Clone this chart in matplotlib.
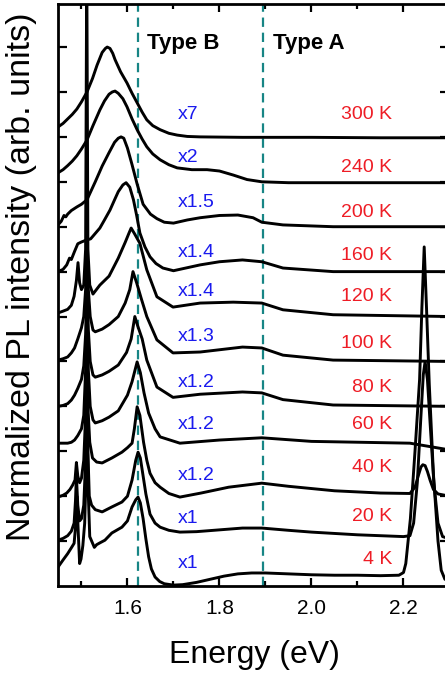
import matplotlib
matplotlib.use("Agg")
import matplotlib.pyplot as plt
from matplotlib.ticker import FixedLocator, NullFormatter

plt.rcParams['font.family'] = ['Liberation Sans', 'DejaVu Sans']

# ---------------- data ----------------
temps = ["4 K", "20 K", "40 K", "60 K", "80 K", "100 K", "120 K", "160 K", "200 K", "240 K", "300 K"]
factors = ["x1", "x1", "x1.2", "x1.2", "x1.2", "x1.3", "x1.4", "x1.4", "x1.5", "x2", "x7"]
factor_y = [0.51, 1.51, 2.47, 3.59, 4.54, 5.55, 6.55, 7.42, 8.55, 9.53, 10.49]
temp_y = [0.60, 1.54, 2.63, 3.59, 4.43, 5.41, 6.44, 7.37, 8.31, 9.31, 10.49]

type_b_energy = 1.622
type_a_energy = 1.894

e_4K = [1.449, 1.46, 1.47, 1.478, 1.484, 1.487, 1.490, 1.493, 1.496, 1.499, 1.503, 1.507, 1.510,
        1.5125, 1.515, 1.518, 1.523, 1.528, 1.533, 1.540, 1.551, 1.566, 1.588, 1.600, 1.610,
        1.618, 1.623, 1.628, 1.634, 1.640, 1.646, 1.652, 1.660, 1.670, 1.680, 1.700, 1.72,
        1.75, 1.78, 1.81, 1.84, 1.87, 1.90, 1.95, 2.00, 2.05, 2.10, 2.15, 2.19, 2.20, 2.205,
        2.215, 2.225, 2.235, 2.240, 2.245, 2.250, 2.256, 2.265, 2.275, 2.282, 2.29, 2.30]
i_4K = [0.42, 0.58, 0.72, 0.85, 0.95, 1.3, 2.0, 1.2, 0.5, 0.6, 0.9, 1.4, 2.5,
        3.6, 2.0, 1.1, 0.98, 0.86, 0.92, 0.96, 1.02, 1.18, 1.31, 1.45, 1.76,
        1.92, 1.98, 1.85, 1.5, 1.05, 0.65, 0.38, 0.2, 0.1, 0.05, 0.02, 0.03,
        0.08, 0.15, 0.22, 0.27, 0.29, 0.29, 0.27, 0.25, 0.24, 0.24, 0.23, 0.24, 0.3, 0.5,
        1.5, 3.0, 4.6, 6.2, 7.55, 6.2, 4.5, 2.5, 1.0, 0.35, 0.15, 0.12]

e_20K = [1.449, 1.46, 1.47, 1.478, 1.484, 1.487, 1.489, 1.492, 1.496, 1.500, 1.505, 1.509,
         1.5115, 1.514, 1.517, 1.522, 1.530, 1.545, 1.566, 1.588, 1.600, 1.610, 1.618, 1.623,
         1.628, 1.634, 1.640, 1.649, 1.660, 1.671, 1.690, 1.714, 1.75, 1.80, 1.85, 1.892,
         1.95, 2.00, 2.05, 2.10, 2.15, 2.20, 2.214, 2.222, 2.23, 2.238, 2.243, 2.247, 2.252,
         2.258, 2.266, 2.275, 2.285, 2.30]
i_20K = [1.02, 1.06, 1.12, 1.22, 1.4, 1.9, 2.45, 1.8, 1.45, 1.5, 1.8, 2.8,
         4.4, 3.0, 2.0, 1.8, 1.7, 1.65, 1.76, 1.87, 2.0, 2.36, 2.8, 2.98,
         2.85, 2.45, 2.05, 1.6, 1.4, 1.31, 1.24, 1.2, 1.21, 1.25, 1.29, 1.29,
         1.24, 1.2, 1.17, 1.14, 1.12, 1.1, 1.12, 1.4, 2.3, 3.8, 4.7, 5.0, 4.6,
         3.6, 2.3, 1.4, 1.1, 1.05]

e_40K = [1.449, 1.46, 1.468, 1.475, 1.481, 1.486, 1.489, 1.492, 1.496, 1.50, 1.505, 1.509,
         1.5115, 1.514, 1.518, 1.524, 1.533, 1.545, 1.566, 1.588, 1.60, 1.61, 1.615, 1.621,
         1.627, 1.635, 1.642, 1.649, 1.66, 1.671, 1.69, 1.714, 1.76, 1.82, 1.892, 1.95,
         2.05, 2.15, 2.214, 2.225, 2.232, 2.238, 2.242, 2.247, 2.252, 2.258, 2.265, 2.275, 2.30]
i_40K = [1.98, 2.02, 2.07, 2.15, 2.25, 2.36, 2.75, 2.45, 2.3, 2.4, 2.8, 3.8,
         5.4, 4.0, 3.2, 2.85, 2.76, 2.74, 2.85, 2.98, 3.08, 3.18, 3.5, 3.99,
         3.8, 3.2, 2.8, 2.51, 2.3, 2.2, 2.06, 1.98, 2.07, 2.2, 2.29, 2.22,
         2.12, 2.07, 2.06, 2.2, 2.45, 2.65, 2.7, 2.68, 2.55, 2.35, 2.15, 2.05, 2.0]

e_60K = [1.449, 1.46, 1.47, 1.478, 1.485, 1.492, 1.50, 1.505, 1.509, 1.512,
         1.515, 1.519, 1.525, 1.53, 1.545, 1.56, 1.58, 1.60, 1.61, 1.621, 1.628, 1.636,
         1.646, 1.66, 1.671, 1.714, 1.80, 1.892, 2.0, 2.214, 2.30]
i_60K = [3.18, 3.18, 3.18, 3.2, 3.25, 3.35, 3.5, 3.8, 4.8, 6.2,
         4.8, 4.0, 3.7, 3.63, 3.68, 3.76, 3.9, 4.25, 4.55, 4.99, 4.75, 4.3,
         3.85, 3.5, 3.32, 3.18, 3.25, 3.3, 3.22, 3.18, 3.03]

e_80K = [1.449, 1.46, 1.47, 1.478, 1.485, 1.492, 1.50, 1.505, 1.509, 1.512,
         1.515, 1.519, 1.525, 1.53, 1.545, 1.56, 1.58, 1.598, 1.608, 1.616, 1.622, 1.632,
         1.642, 1.664, 1.699, 1.758, 1.85, 1.892, 1.938, 2.047, 2.30]
i_80K = [4.0, 4.02, 4.06, 4.14, 4.25, 4.4, 4.6, 4.9, 5.6, 6.8,
         5.7, 5.0, 4.7, 4.65, 4.7, 4.78, 4.92, 5.2, 5.5, 6.0, 5.8, 5.5,
         5.03, 4.43, 4.2, 4.27, 4.32, 4.3, 4.15, 4.03, 4.0]

e_100K = [1.449, 1.46, 1.47, 1.478, 1.485, 1.492, 1.50, 1.505, 1.509, 1.512,
          1.515, 1.519, 1.525, 1.53, 1.545, 1.56, 1.58, 1.595, 1.605, 1.612, 1.62, 1.63,
          1.642, 1.664, 1.699, 1.758, 1.85, 1.892, 1.938, 2.047, 2.30]
i_100K = [5.03, 5.06, 5.1, 5.19, 5.3, 5.5, 5.75, 6.0, 6.6, 7.6,
          6.6, 6.0, 5.7, 5.66, 5.72, 5.82, 6.0, 6.3, 6.6, 7.0, 6.75, 6.4,
          6.0, 5.48, 5.19, 5.21, 5.32, 5.3, 5.14, 5.03, 5.0]

e_120K = [1.449, 1.46, 1.47, 1.478, 1.484, 1.489, 1.4925, 1.496, 1.50, 1.505, 1.509, 1.5115,
          1.514, 1.518, 1.525, 1.54, 1.56, 1.58, 1.595, 1.603, 1.608, 1.615, 1.627, 1.642,
          1.664, 1.699, 1.758, 1.83, 1.892, 1.938, 2.047, 2.30]
i_120K = [6.08, 6.12, 6.16, 6.25, 6.45, 6.8, 7.2, 6.75, 6.6, 6.7, 7.5, 14.0,
          7.5, 6.7, 6.5, 6.7, 6.9, 7.3, 7.65, 7.85, 7.97, 7.85, 7.63, 7.04,
          6.44, 6.21, 6.3, 6.32, 6.3, 6.15, 6.04, 6.0]

e_160K = [1.449, 1.46, 1.468, 1.474, 1.478, 1.485, 1.492, 1.50, 1.51, 1.52, 1.53, 1.54,
          1.55, 1.562, 1.572, 1.58, 1.59, 1.597, 1.605, 1.613, 1.62, 1.627, 1.638, 1.649,
          1.662, 1.677, 1.70, 1.758, 1.80, 1.85, 1.892, 1.938, 2.047, 2.30]
i_160K = [7.0, 7.05, 7.15, 7.3, 7.27, 7.45, 7.62, 7.66, 7.7, 7.73, 7.85, 7.97,
          8.15, 8.37, 8.6, 8.78, 8.93, 8.98, 8.88, 8.6, 8.25, 7.86, 7.55, 7.33,
          7.18, 7.08, 7.02, 7.15, 7.22, 7.26, 7.22, 7.08, 7.0, 7.0]

e_200K = [1.449, 1.456, 1.462, 1.466, 1.47, 1.478, 1.49, 1.50, 1.512, 1.53, 1.545, 1.56,
          1.572, 1.58, 1.586, 1.592, 1.60, 1.61, 1.621, 1.634, 1.65, 1.664, 1.68, 1.70,
          1.73, 1.758, 1.80, 1.84, 1.873, 1.892, 1.938, 2.047, 2.30]
i_200K = [8.04, 8.12, 8.25, 8.22, 8.28, 8.36, 8.44, 8.5, 8.6, 9.0, 9.35, 9.65,
          9.88, 9.97, 10.0, 9.97, 9.75, 9.38, 8.95, 8.5, 8.28, 8.18, 8.1, 8.08,
          8.15, 8.2, 8.25, 8.26, 8.2, 8.1, 8.04, 8.0, 8.0]

e_240K = [1.449, 1.46, 1.47, 1.48, 1.49, 1.50, 1.512, 1.525, 1.54, 1.55, 1.56, 1.567,
          1.573, 1.58, 1.59, 1.599, 1.61, 1.621, 1.632, 1.642, 1.655, 1.671, 1.69, 1.708,
          1.74, 1.773, 1.80, 1.83, 1.86, 1.892, 1.95, 2.1, 2.30]
i_240K = [9.2, 9.27, 9.36, 9.46, 9.58, 9.73, 9.93, 10.25, 10.6, 10.8, 10.95, 11.0,
          11.02, 10.97, 10.85, 10.67, 10.4, 10.16, 9.95, 9.78, 9.62, 9.49, 9.38, 9.31,
          9.27, 9.27, 9.24, 9.15, 9.05, 9.0, 8.98, 8.98, 8.98]

e_300K = [1.449, 1.46, 1.47, 1.48, 1.49, 1.50, 1.512, 1.524, 1.534, 1.545, 1.552, 1.556,
          1.562, 1.568, 1.573, 1.585, 1.599, 1.61, 1.621, 1.632, 1.642, 1.655, 1.671, 1.69,
          1.708, 1.73, 1.758, 1.85, 2.0, 2.15, 2.30]
i_300K = [10.22, 10.3, 10.4, 10.5, 10.62, 10.78, 11.0, 11.3, 11.6, 11.88, 11.97, 12.0,
          11.97, 11.86, 11.72, 11.45, 11.2, 10.97, 10.76, 10.55, 10.38, 10.25, 10.16, 10.08,
          10.04, 10.01, 10.0, 9.99, 9.99, 9.98, 9.98]

energies = [e_4K, e_20K, e_40K, e_60K, e_80K, e_100K, e_120K, e_160K, e_200K, e_240K, e_300K]
intensities = [i_4K, i_20K, i_40K, i_60K, i_80K, i_100K, i_120K, i_160K, i_200K, i_240K, i_300K]

x_major = [1.6, 1.8, 2.0, 2.2]
x_minor = [1.5, 1.7, 1.9, 2.1]
y_ticks = list(range(1, 13))

# ---------------- figure ----------------
W, H = 445, 674
fig = plt.figure(figsize=(W / 100, H / 100), dpi=100)
ax = fig.add_axes([58 / W, (H - 586) / H, (449.5 - 58) / W, (586 - 3.5) / H])
ax.set_xlim(1.449, 2.30)
ax.set_ylim(0, 12.97)

for e, i in zip(energies, intensities):
    ax.plot(e, i, color='black', lw=2.1, solid_joinstyle='round', zorder=3)

for xv in (type_b_energy, type_a_energy):
    ax.axvline(xv, color='#178585', lw=1.6, ls=(0, (4.2, 2.6)), zorder=2)

ax.text(1.642, 12.09, "Type B", fontsize=16, fontweight='bold', ha='left', va='center')
ax.text(1.916, 12.09, "Type A", fontsize=16, fontweight='bold', ha='left', va='center')

for f, fy in zip(factors, factor_y):
    ax.text(1.710, fy, f, color='#1a1aee', fontsize=14, ha='left', va='center')
for t, ty in zip(temps, temp_y):
    ax.text(2.175, ty, t, color='#ee1c25', fontsize=14, ha='right', va='center')

ax.xaxis.set_major_locator(FixedLocator(x_major))
ax.xaxis.set_minor_locator(FixedLocator(x_minor))
ax.set_xticklabels(["1.6", "1.8", "2.0", "2.2"])
ax.yaxis.set_major_locator(FixedLocator(y_ticks))
ax.yaxis.set_major_formatter(NullFormatter())
ax.tick_params(axis='x', which='major', direction='in', length=5.5, width=1.6,
               top=True, bottom=True, labelsize=15, pad=9)
ax.tick_params(axis='x', which='minor', direction='in', length=3.5, width=1.6,
               top=True, bottom=True)
ax.tick_params(axis='y', which='major', direction='in', length=6.5, width=1.6,
               left=True, right=True)
for s in ax.spines.values():
    s.set_linewidth(2.0)

fig.text(254.5 / W, (H - 663) / H, "Energy (eV)", fontsize=23, ha='center', va='baseline')
fig.text(22 / W, (H - 277) / H, "Normalized PL intensity (arb. units)", fontsize=24.5,
         rotation=90, ha='center', va='center')

fig.savefig("out.png", dpi=100)
